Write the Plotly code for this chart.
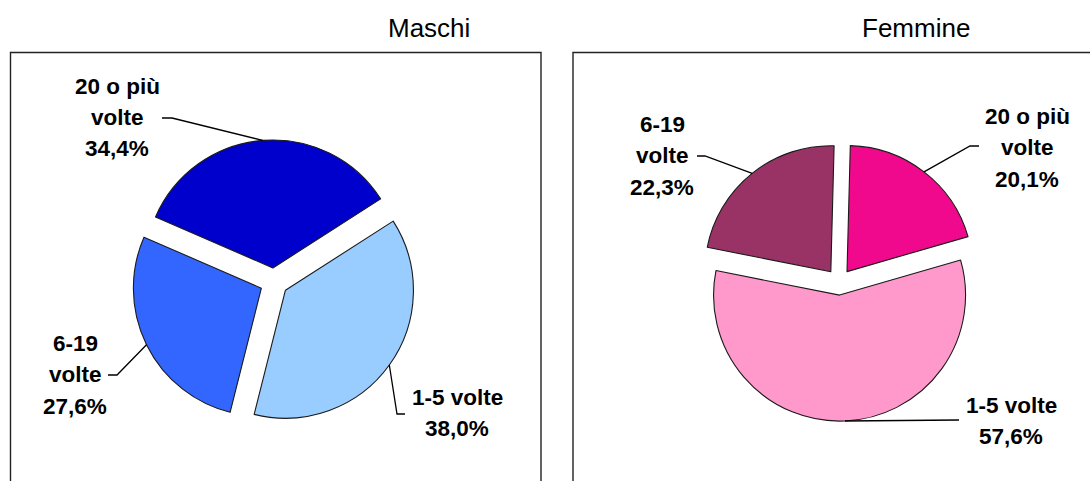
import math
import plotly.graph_objects as go

W, H = 1090, 481

# ---------------- data ----------------
titles = ["Maschi", "Femmine"]

categories_m = ["20 o più volte", "1-5 volte", "6-19 volte"]
values_m = [34.4, 38.0, 27.6]
label_rows_m = [["20 o più", "volte"], ["1-5 volte"], ["6-19", "volte"]]

categories_f = ["20 o più volte", "1-5 volte", "6-19 volte"]
values_f = [20.1, 57.6, 22.3]
label_rows_f = [["20 o più", "volte"], ["1-5 volte"], ["6-19", "volte"]]

# ---------------- styling / layout ----------------
colors_m = ["#0000CC", "#99CCFF", "#3366FF"]
colors_f = ["#F0098C", "#FF99CC", "#993366"]

FONT = "Liberation Sans, Arial, sans-serif"
LABEL_SIZE = 22.5
TITLE_SIZE = 26
ROW_GAP = 31.5

charts = [
    dict(title=titles[0], cats=categories_m, vals=values_m, rows=label_rows_m, colors=colors_m,
         cx=274, cy=282, r=128, pull=0.11, rotation=-66.5, title_x=429,
         labels=[dict(x=117, y=86, elbow=(172, 118), end=(162, 118)),
                 dict(x=457, y=397, elbow=(397, 414), end=(405, 414)),
                 dict(x=75, y=343, elbow=(117, 375), end=(108, 375))]),
    dict(title=titles[1], cats=categories_f, vals=values_f, rows=label_rows_f, colors=colors_f,
         cx=839, cy=282, r=126, pull=0.104, rotation=1.5, title_x=916,
         labels=[dict(x=1027, y=116, elbow=(970, 146), end=(979, 146)),
                 dict(x=1011, y=405, elbow=None, end=(959, 420)),
                 dict(x=662, y=124, elbow=(705, 156), end=(697, 156))]),
]


def px(x):
    return x / W


def py(y):
    return 1 - y / H


fig = go.Figure()
shapes = []
annotations = []

for ch in charts:
    half = ch["r"] * (1 + ch["pull"])
    fig.add_trace(go.Pie(
        labels=ch["cats"], values=ch["vals"], sort=False, direction="clockwise",
        rotation=ch["rotation"], pull=[ch["pull"]] * len(ch["vals"]),
        marker=dict(colors=ch["colors"], line=dict(color="#1a1a1a", width=1.1)),
        textinfo="none", hoverinfo="label+value", showlegend=False,
        domain=dict(x=[px(ch["cx"] - half), px(ch["cx"] + half)],
                    y=[py(ch["cy"] + half), py(ch["cy"] - half)]),
    ))

    annotations.append(dict(text=ch["title"], x=px(ch["title_x"]), y=py(28), xref="paper", yref="paper",
                            xanchor="center", yanchor="middle", showarrow=False,
                            font=dict(family=FONT, size=TITLE_SIZE, color="#000000")))

    total = sum(ch["vals"])
    angle = ch["rotation"]
    for v, rows, lab in zip(ch["vals"], ch["rows"], ch["labels"]):
        span = 360.0 * v / total
        mid = math.radians(angle + span / 2)
        angle += span
        rr = half
        ax = ch["cx"] + rr * math.sin(mid)
        ay = ch["cy"] - rr * math.cos(mid)
        pts = [(ax, ay)]
        if lab["elbow"] is not None:
            pts.append(lab["elbow"])
        pts.append(lab["end"])
        path = "M " + " L ".join(f"{px(x):.5f},{py(y):.5f}" for x, y in pts)
        shapes.append(dict(type="path", path=path, xref="paper", yref="paper",
                           line=dict(color="#000000", width=1.3)))

        pct = f"{v:.1f}%".replace(".", ",")
        all_rows = rows + [pct]
        for i, t in enumerate(all_rows):
            annotations.append(dict(text=f"<b>{t}</b>", x=px(lab["x"]), y=py(lab["y"] + i * ROW_GAP),
                                    xref="paper", yref="paper", xanchor="center", yanchor="middle",
                                    showarrow=False,
                                    font=dict(family=FONT, size=LABEL_SIZE, color="#000000")))

shapes.append(dict(type="rect", xref="paper", yref="paper", x0=px(10.5), x1=px(541), y0=py(500), y1=py(52.5),
                   line=dict(color="#222222", width=1.4), fillcolor="rgba(0,0,0,0)", layer="below"))
shapes.append(dict(type="rect", xref="paper", yref="paper", x0=px(573), x1=px(1110), y0=py(500), y1=py(52.5),
                   line=dict(color="#222222", width=1.4), fillcolor="rgba(0,0,0,0)", layer="below"))

fig.update_layout(
    width=W, height=H, margin=dict(l=0, r=0, t=0, b=0),
    paper_bgcolor="white", plot_bgcolor="white",
    shapes=shapes, annotations=annotations,
    font=dict(family=FONT),
)

fig.write_html("out.html",
               config={"displayModeBar": False},
               post_script="document.body.style.margin='0';document.body.style.padding='0';"
                           "document.documentElement.style.overflow='hidden';")
